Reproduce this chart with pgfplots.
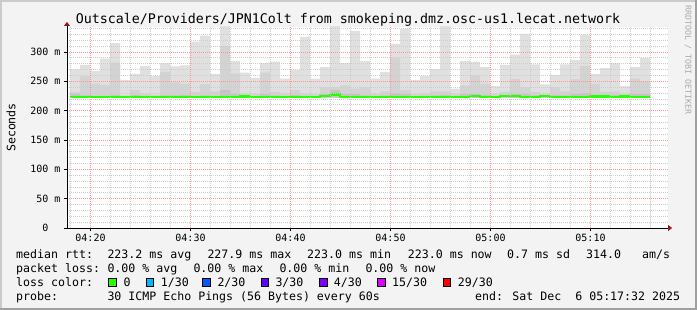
\documentclass[border=0pt]{standalone}
\usepackage{fontspec}
\setmainfont{DejaVu Sans Mono}
\newfontfamily\dmono{DejaVu Sans Mono}
\usepackage{pgfplots}
\pgfplotsset{compat=1.18}
\usepackage{pgfplotstable}
\usetikzlibrary{arrows.meta}

\definecolor{bgc}{RGB}{243,243,243}
\definecolor{shadeA}{RGB}{203,203,203}
\definecolor{shadeB}{RGB}{160,160,160}
\definecolor{smokeA}{RGB}{224,224,224}
\definecolor{smokeB}{RGB}{211,211,211}
\definecolor{smokeC}{RGB}{196,196,196}
\definecolor{medgreen}{RGB}{38,255,0}
\definecolor{mgrid}{RGB}{255,150,150}
\definecolor{ngrid}{RGB}{205,205,205}
\definecolor{arrred}{RGB}{150,20,20}
\definecolor{lossA}{RGB}{38,255,0}
\definecolor{lossB}{RGB}{0,184,255}
\definecolor{lossC}{RGB}{0,89,255}
\definecolor{lossD}{RGB}{94,0,255}
\definecolor{lossE}{RGB}{126,0,255}
\definecolor{lossF}{RGB}{221,0,255}
\definecolor{lossG}{RGB}{255,0,0}

% smoke per 1-minute bar: k, min, low band, mid band, max (ms)
\pgfplotstableread{
k  min  low  q      max
1  222  228  232    270.5
2  222  226  258.5  278
3  222  225  246    268
4  222  225  244    288.6
5  222  227  282    315
6  222  224  226    252
7  222  227  235    262.5
8  222  225  228    276
9  222  224  227    259
10 222  226  266    281
11 222  226  248    275.6
12 222  227  246    277
13 222  225  232    317.6
14 222  226  245    327.8
15 222  225  233    262.5
16 222  235  310    345
17 222  228  263    285
18 222  225  229    265
19 222  224  228    256
20 222  228  265    281
21 222  226  232    283.6
22 222  224  229    254.5
23 222  227  235    269
24 222  225  229    325.6
25 222  224  228    254.5
26 222  228  240    274
27 222  235  240    345
28 222  228  243    281
29 222  228  237.5  336
30 222  226  240    284.6
31 222  224  228    254.5
32 222  226  233    266
33 222  230  290    314
34 222  228  235    340
35 222  224  228    252
36 222  225  229    259
37 222  226  233    271
38 222  227  233    345
39 222  224  228    237.5
40 222  228  243    284.6
41 222  228  260    283
42 222  227  246    274
43 222  224  228    242
44 222  226  232    278
45 222  228  254    295.6
46 222  228  240    330.7
47 222  226  232    279
48 222  224  228    245
49 222  227  240    261
50 222  226  233    279
51 222  228  253.5  286
52 222  230  276    329.5
53 222  227  246    262.5
54 222  226  232    272.7
55 222  227  233    281
56 222  224  228    242
57 222  228  254.5  274
58 222  228  250    290
}\smoke

% median rtt, step starts (minutes after 04:00)
\pgfplotstableread{
s      med
17.95  223
18.95  223
19.95  223
20.95  223
21.95  223
22.95  223
23.95  223
24.95  223
25.95  223
26.95  223
27.95  223
28.95  223
29.95  223
30.95  223
31.95  223
32.95  223
33.95  223
34.95  224.5
35.95  223
36.95  223
37.95  223
38.95  223
39.95  223
40.95  223
41.95  223
42.95  225
43.95  228
44.95  223
45.95  223
46.95  223
47.95  223
48.95  223
49.95  223
50.95  223
51.95  223
52.95  223
53.95  223
54.95  223
55.95  223
56.95  223
57.95  225
58.95  223
59.95  223
60.95  225
61.95  225
62.95  223
63.95  223
64.95  225
65.95  223
66.95  223
67.95  223
68.95  223
69.95  224.5
70.95  224.5
71.95  223
72.95  224.5
73.95  223
74.95  223
75.95  223
}\med

\begin{document}
\begin{tikzpicture}[x=1pt,y=1pt]
\fill[bgc] (0,0) rectangle (697,310);
\path[use as bounding box] (0,0) rectangle (697,310);
\fill[shadeA] (0,308) rectangle (697,310);
\fill[shadeA] (0,0) rectangle (2,310);
\fill[shadeB] (0,0) rectangle (697,2);
\fill[shadeB] (695,0) rectangle (697,310);

\begin{axis}[
  at={(67pt,82pt)}, anchor=south west,
  width=601pt, height=201pt, scale only axis,
  xmin=17.65, xmax=77.75, ymin=0, ymax=342.6,
  axis background/.style={fill=white},
  axis on top,
  axis x line=bottom, axis y line=left,
  x axis line style={black, line width=0.8pt, shorten >=-4pt, -{Triangle[width=6pt,length=4pt,color=arrred]}},
  y axis line style={black, line width=0.8pt, shorten >=-5pt, -{Triangle[width=6pt,length=4pt,color=arrred]}},
  xtick={20,30,40,50,60,70},
  xticklabels={04:20,04:30,04:40,04:50,05:00,05:10},
  minor xtick={18,22,24,26,28,32,34,36,38,42,44,46,48,52,54,56,58,62,64,66,68,72,74,76},
  ytick={0,50,100,150,200,250,300},
  yticklabels={0\phantom{~m},50~m,100~m,150~m,200~m,250~m,300~m},
  minor ytick={10,20,30,40,60,70,80,90,110,120,130,140,160,170,180,190,210,220,230,240,260,270,280,290,310,320,330,340},
  grid=both,
  major grid style={mgrid, line width=0.8pt, dash pattern=on 1pt off 1pt},
  minor grid style={ngrid, line width=0.8pt, dash pattern=on 1pt off 1pt},
  tick align=outside,
  major tick length=3pt, minor tick length=0pt,
  tick style={black, line width=0.6pt},
  ticklabel style={font=\dmono\fontsize{10}{11}\selectfont, text=black},
]
\addplot[ybar, bar width=1, bar shift=0pt, fill=smokeA, draw=none] table[x expr=\thisrow{k}+17.45, y=max] {\smoke};
\addplot[ybar, bar width=1, bar shift=0pt, fill=smokeB, draw=none] table[x expr=\thisrow{k}+17.45, y=q] {\smoke};
\addplot[ybar, bar width=1, bar shift=0pt, fill=smokeC, draw=none] table[x expr=\thisrow{k}+17.45, y=low] {\smoke};
\addplot[ybar, bar width=1, bar shift=0pt, fill=white, draw=none] table[x expr=\thisrow{k}+17.45, y=min] {\smoke};
\addplot[const plot, medgreen, line width=2.6pt, line cap=butt] table[x=s, y=med] {\med};
\end{axis}

% title and labels
\node[anchor=base, inner sep=0, font=\dmono\fontsize{13.3}{14}\selectfont] at (348,286.7)
  {Outscale/Providers/JPN1Colt from smokeping.dmz.osc-us1.lecat.network};
\node[rotate=90, inner sep=0, font=\dmono\fontsize{11.6}{12}\selectfont] at (11,182.5) {Seconds};
\node[rotate=-90, inner sep=0, text={rgb,255:red,170;green,170;blue,170}, font=\dmono\fontsize{8.3}{9}\selectfont] at (688,250) {RRDTOOL / TOBI OETIKER};

\begin{scope}[every node/.style={anchor=base west, inner sep=0, font=\dmono\fontsize{11.6}{12}\selectfont}]
% row 1
\node at (16,51.7) {median rtt:};
\node at (107.3,51.7) {223.2 ms avg};
\node at (207.3,51.7) {227.9 ms max};
\node at (307,51.7) {223.0 ms min};
\node at (407.7,51.7) {223.0 ms now};
\node at (507,51.7) {0.7 ms sd};
\node at (586,51.7) {314.0};
\node at (642,51.7) {am/s};
% row 2
\node at (16,37.7) {packet loss:};
\node at (107.3,37.7) {0.00 \% avg};
\node at (193.3,37.7) {0.00 \% max};
\node at (279.3,37.7) {0.00 \% min};
\node at (365.3,37.7) {0.00 \% now};
% row 3
\node at (16,23.7) {loss color:};
\node at (123.3,23.7) {0};
\node at (160.7,23.7) {1/30};
\node at (217.3,23.7) {2/30};
\node at (275.3,23.7) {3/30};
\node at (333.7,23.7) {4/30};
\node at (392,23.7) {15/30};
\node at (457.7,23.7) {29/30};
% row 4
\node at (16,9.7) {probe:};
\node at (107.3,9.7) {30 ICMP Echo Pings (56 Bytes) every 60s};
\node[anchor=base east] at (680.3,9.7) {end: Sat Dec~~6 05:17:32 2025};
\end{scope}

\begin{scope}[line width=0.8pt]
\filldraw[fill=lossA, draw=black] (108.7,23.3) rectangle (116,31.7);
\filldraw[fill=lossB, draw=black] (146,23.3) rectangle (153.3,31.7);
\filldraw[fill=lossC, draw=black] (202.7,23.3) rectangle (210,31.7);
\filldraw[fill=lossD, draw=black] (261.3,23.3) rectangle (268.7,31.7);
\filldraw[fill=lossE, draw=black] (319.3,23.3) rectangle (327,31.7);
\filldraw[fill=lossF, draw=black] (377.7,23.3) rectangle (385.3,31.7);
\filldraw[fill=lossG, draw=black] (443,23.3) rectangle (450.3,31.7);
\end{scope}
\end{tikzpicture}
\end{document}
